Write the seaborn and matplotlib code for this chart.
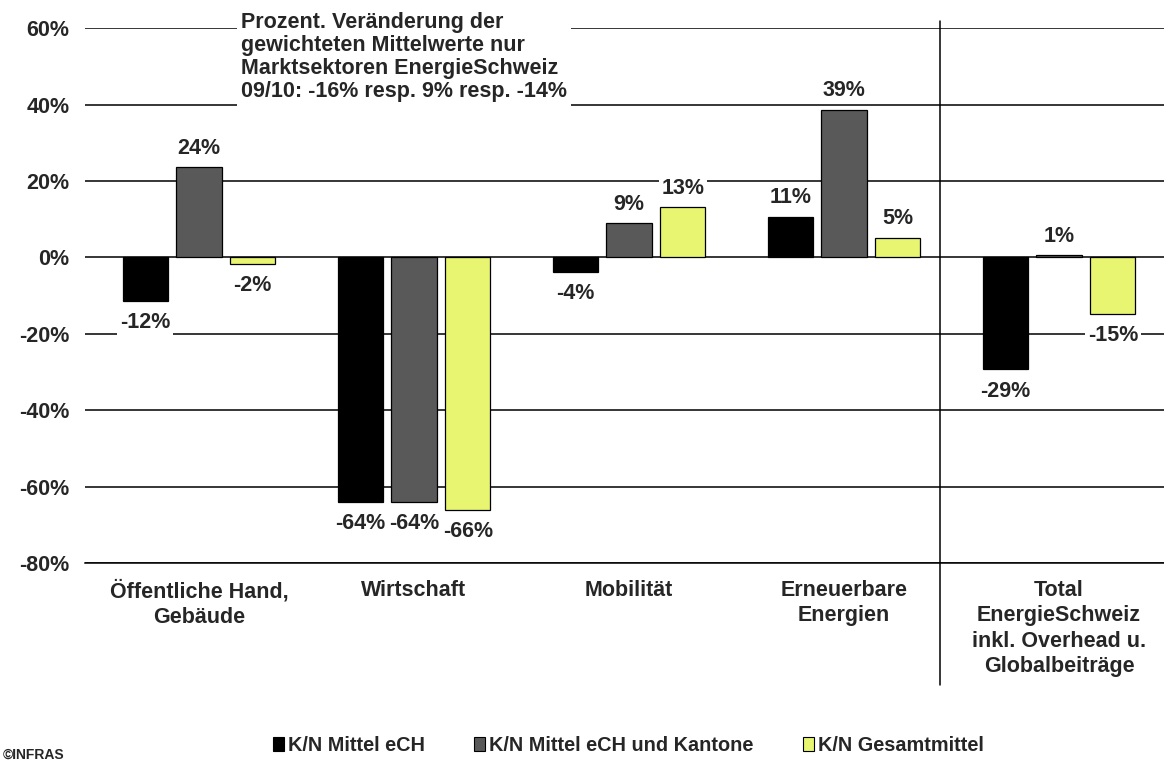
import numpy as np
import pandas as pd
import matplotlib
matplotlib.use('Agg')
import matplotlib.pyplot as plt
import seaborn as sns
from matplotlib.patches import Patch

# data (Prozent. Veränderung)
categories = ['Öffentliche Hand,\nGebäude', 'Wirtschaft', 'Mobilität',
              'Erneuerbare\nEnergien',
              'Total\nEnergieSchweiz\ninkl. Overhead u.\nGlobalbeiträge']
series = ['K/N Mittel eCH', 'K/N Mittel eCH und Kantone', 'K/N Gesamtmittel']
mittel_ech = [-11.5, -64.1, -3.7, 10.7, -29.3]
mittel_kantone = [23.6, -64.1, 8.9, 38.7, 0.6]
gesamtmittel = [-1.6, -66.0, 13.1, 5.2, -14.9]
yticks = [-80, -60, -40, -20, 0, 20, 40, 60]
note = ('Prozent. Veränderung der\ngewichteten Mittelwerte nur\n'
        'Marktsektoren EnergieSchweiz\n09/10: -16% resp. 9% resp. -14%')

colors = ['#000000', '#595959', '#E8F570']

df = pd.DataFrame({'cat': categories * 3,
                   'serie': np.repeat(series, len(categories)),
                   'val': mittel_ech + mittel_kantone + gesamtmittel})

sns.set_theme(style='white')
plt.rcParams['font.family'] = ['Liberation Sans', 'DejaVu Sans']
plt.rcParams['font.weight'] = 'bold'

fig = plt.figure(figsize=(11.64, 7.62), dpi=100)
ax = fig.add_axes([0.073, 0.261, 0.927, 0.702])

sns.barplot(data=df, x='cat', y='val', hue='serie', hue_order=series,
            order=categories, palette=colors, width=0.75, gap=0.16,
            edgecolor='black', linewidth=0.9, ax=ax, legend=False,
            errorbar=None, saturation=1, zorder=3)

ax.set_xlim(-0.53, 4.488)
ax.set_ylim(-80, 60)
ax.set_yticks(yticks)
ax.set_yticklabels([f'{v}%' for v in yticks], fontsize=15.5, fontweight='bold')
ax.yaxis.grid(True, color='black', linewidth=1.1, zorder=0)
ax.set_axisbelow(True)
ax.tick_params(axis='y', length=0, pad=11)
ax.tick_params(axis='x', length=0, pad=12)
ax.set_xticks(range(len(categories)))
ax.set_xticklabels(categories, fontsize=15.5, fontweight='bold', linespacing=1.28)
ax.set_xlabel('')
ax.set_ylabel('')
for s in ['left', 'right', 'top']:
    ax.spines[s].set_visible(False)
ax.spines['bottom'].set_color('black')
ax.spines['bottom'].set_linewidth(1.1)

# value labels
for cont in ax.containers:
    for bar in cont:
        h = bar.get_height()
        xc = bar.get_x() + bar.get_width() / 2
        off = 6 if h >= 0 else -8
        ax.annotate(f'{h:.0f}%', (xc, h), xytext=(0, off), textcoords='offset points',
                    ha='center', va='bottom' if h >= 0 else 'top',
                    fontsize=15.5, fontweight='bold', zorder=5,
                    bbox=dict(boxstyle='square,pad=0.12', fc='white', ec='none'))

# separator before total
ax.axvline(3.447, ymin=-0.228, ymax=1.013, color='black', linewidth=1.1, clip_on=False)

fig.text(0.207, 0.984, note, ha='left', va='top', fontsize=15.5, fontweight='bold',
         linespacing=1.12,
         bbox=dict(boxstyle='square,pad=0.2', fc='white', ec='none'))

handles = [Patch(facecolor=c, edgecolor='black', linewidth=0.8) for c in colors]
fig.legend(handles, series, loc='center', bbox_to_anchor=(0.54, 0.022), ncol=3,
           frameon=False, handlelength=0.55, handleheight=0.7,
           handletextpad=0.2, columnspacing=2.5, prop={'weight': 'bold', 'size': 14.3})

fig.text(0.002, 0.0, '©INFRAS', ha='left', va='bottom', fontsize=10)

fig.savefig('out.png', dpi=100)
